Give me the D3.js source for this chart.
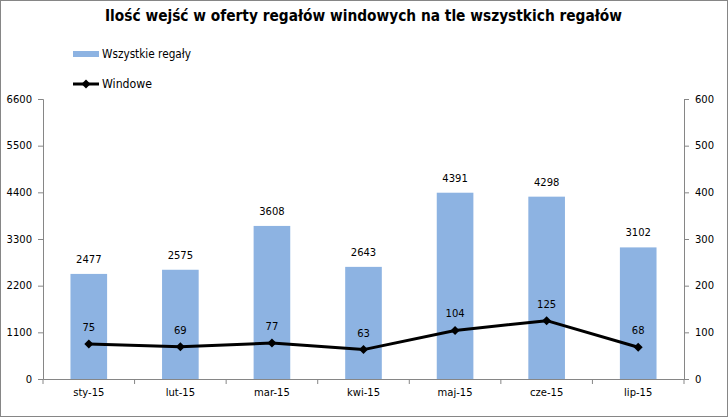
<!DOCTYPE html>
<html>
<head>
<meta charset="utf-8">
<script src="https://cdnjs.cloudflare.com/ajax/libs/d3/7.8.5/d3.min.js"></script>
<style>
  body { margin:0; background:#fff; }
  text { font-family: "DejaVu Sans", Verdana, sans-serif; }
</style>
</head>
<body>
<div id="chart-area"></div>
<script>
var months = ["sty-15", "lut-15", "mar-15", "kwi-15", "maj-15", "cze-15", "lip-15"];
var allRacks = [2477, 2575, 3608, 2643, 4391, 4298, 3102];
var windowRacks = [75, 69, 77, 63, 104, 125, 68];
var leftTicks = [0, 1100, 2200, 3300, 4400, 5500, 6600];
var rightTicks = [0, 100, 200, 300, 400, 500, 600];

var W = 728, H = 417;
var margin = { left:43, right:44, top:99, bottom:38 },
    width = W - margin.left - margin.right,
    height = H - margin.top - margin.bottom;

var svg = d3.select("#chart-area").append("svg")
    .attr("width", W)
    .attr("height", H);

// frame
svg.append("rect")
    .attr("x", 0.5).attr("y", 0.5)
    .attr("width", W - 1).attr("height", H - 1)
    .attr("fill", "#fff")
    .attr("stroke", "#868686");

// title (Calibri-like narrow width, squeezed with textLength)
svg.append("text")
    .attr("x", 105)
    .attr("y", 21)
    .attr("font-family", "Liberation Sans, Arial, sans-serif")
    .attr("font-weight", "bold")
    .attr("font-size", "15.5px")
    .attr("textLength", 517)
    .attr("lengthAdjust", "spacingAndGlyphs")
    .text("Ilość wejść w oferty regałów windowych na tle wszystkich regałów");

var g = svg.append("g")
    .attr("transform", "translate(" + margin.left + "," + margin.top + ")");

var x = d3.scaleBand().domain(months).range([0, width]).paddingInner(0.6).paddingOuter(0.3);
var xb = d3.scaleBand().domain(months).range([0, width]);
var yL = d3.scaleLinear().domain([0, 6600]).range([height, 0]);
var yR = d3.scaleLinear().domain([0, 600]).range([height, 0]);

var barColor = "#8db3e2";

// bars
g.selectAll(".bar")
    .data(allRacks)
  .enter().append("rect")
    .attr("class", "bar")
    .attr("x", function(d, i) { return x(months[i]); })
    .attr("y", function(d) { return yL(d); })
    .attr("width", x.bandwidth())
    .attr("height", function(d) { return height - yL(d); })
    .attr("fill", barColor);

g.selectAll(".bar-label")
    .data(allRacks)
  .enter().append("text")
    .attr("x", function(d, i) { return x(months[i]) + x.bandwidth() / 2; })
    .attr("y", function(d) { return yL(d) - 11; })
    .attr("text-anchor", "middle")
    .attr("font-size", "10px")
    .attr("fill", "#000")
    .text(function(d) { return d; });

// axes
var axisColor = "#868686";

var xAxis = g.append("g")
    .attr("transform", "translate(0," + height + ")")
    .call(d3.axisBottom(xb).tickSize(0).tickPadding(10));
xAxis.select(".domain").attr("stroke", axisColor);
xAxis.selectAll("text").attr("font-size", "10px").attr("fill", "#000")
    .attr("font-family", "DejaVu Sans, Verdana, sans-serif");
xAxis.selectAll(".sep")
    .data(d3.range(months.length + 1))
  .enter().append("line")
    .attr("class", "sep")
    .attr("x1", function(i) { return i * xb.step(); })
    .attr("x2", function(i) { return i * xb.step(); })
    .attr("y1", 0).attr("y2", 5)
    .attr("stroke", axisColor);

var yAxisL = g.append("g")
    .call(d3.axisLeft(yL).tickValues(leftTicks).tickSize(5).tickPadding(6).tickFormat(d3.format("d")));
var yAxisR = g.append("g")
    .attr("transform", "translate(" + width + ",0)")
    .call(d3.axisRight(yR).tickValues(rightTicks).tickSize(5).tickPadding(6).tickFormat(d3.format("d")));
[yAxisL, yAxisR].forEach(function(a) {
    a.select(".domain").attr("stroke", axisColor);
    a.selectAll(".tick line").attr("stroke", axisColor);
    a.selectAll("text").attr("font-size", "10px").attr("fill", "#000")
        .attr("font-family", "DejaVu Sans, Verdana, sans-serif");
});

// line
var line = d3.line()
    .x(function(d, i) { return xb(months[i]) + xb.bandwidth() / 2; })
    .y(function(d) { return yR(d); });

g.append("path")
    .datum(windowRacks)
    .attr("d", line)
    .attr("fill", "none")
    .attr("stroke", "#000")
    .attr("stroke-width", 3)
    .attr("stroke-linejoin", "round");

var diamond = "M0,-4.5L4.5,0L0,4.5L-4.5,0Z";

g.selectAll(".pt")
    .data(windowRacks)
  .enter().append("path")
    .attr("class", "pt")
    .attr("transform", function(d, i) {
        return "translate(" + (xb(months[i]) + xb.bandwidth() / 2) + "," + yR(d) + ")";
    })
    .attr("d", diamond)
    .attr("fill", "#000");

g.selectAll(".pt-label")
    .data(windowRacks)
  .enter().append("text")
    .attr("x", function(d, i) { return xb(months[i]) + xb.bandwidth() / 2; })
    .attr("y", function(d) { return yR(d) - 13; })
    .attr("text-anchor", "middle")
    .attr("font-size", "10px")
    .attr("fill", "#000")
    .text(function(d) { return d; });

// legend
var legend = svg.append("g");
legend.append("rect")
    .attr("x", 73).attr("y", 51)
    .attr("width", 26).attr("height", 6)
    .attr("fill", barColor);
legend.append("text")
    .attr("x", 102).attr("y", 58)
    .attr("font-family", "Liberation Sans, Arial, sans-serif")
    .attr("font-size", "12px")
    .attr("textLength", 89)
    .attr("lengthAdjust", "spacingAndGlyphs")
    .text("Wszystkie regały");
legend.append("line")
    .attr("x1", 73).attr("x2", 99)
    .attr("y1", 84).attr("y2", 84)
    .attr("stroke", "#000").attr("stroke-width", 3);
legend.append("path")
    .attr("transform", "translate(86,84)")
    .attr("d", diamond)
    .attr("fill", "#000");
legend.append("text")
    .attr("x", 102).attr("y", 88)
    .attr("font-family", "Liberation Sans, Arial, sans-serif")
    .attr("font-size", "12px")
    .attr("textLength", 50)
    .attr("lengthAdjust", "spacingAndGlyphs")
    .text("Windowe");
</script>
</body>
</html>
